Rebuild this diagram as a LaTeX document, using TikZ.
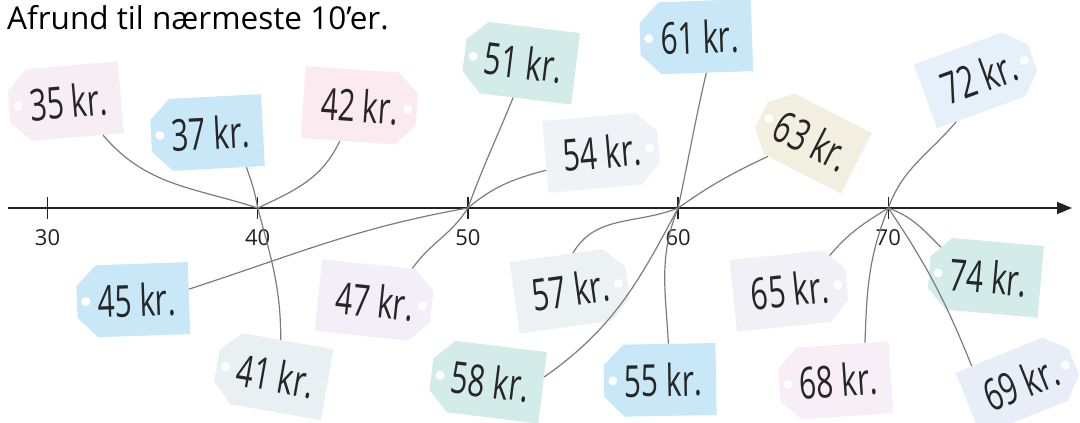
\documentclass[tikz,border=0pt]{standalone}
\usepackage{fontspec}
\setmainfont{Open Sans}
\newfontfamily\tagfont[FakeStretch=0.68]{Open Sans}
\usetikzlibrary{arrows.meta,calc,shapes.misc}
\definecolor{tagpink}{HTML}{F7EEF5}
\definecolor{tagblue}{HTML}{C8E8F8}
\definecolor{tagrose}{HTML}{FBEAEF}
\definecolor{tagteal}{HTML}{D4ECE9}
\definecolor{taglilac}{HTML}{F1F1F8}
\definecolor{tagsand}{HTML}{F2EEE0}
\definecolor{tagsky}{HTML}{E6F0FA}
\definecolor{tagmist}{HTML}{E8F0F4}
\definecolor{tagmauve}{HTML}{F3EEF8}
\definecolor{tagfrost}{HTML}{ECF1F4}
\definecolor{taggrey}{HTML}{F0F0F6}
\definecolor{tagorchid}{HTML}{F8EEF8}
\definecolor{tagice}{HTML}{E7EEF8}
\definecolor{axisdark}{HTML}{222222}
\definecolor{stringgrey}{HTML}{7C7C7C}
\tikzset{
  pricetag/.style={
    chamfered rectangle,
    chamfered rectangle corners={north west,south west},
    chamfered rectangle xsep=11pt,
    chamfered rectangle ysep=9pt,
    minimum width=112pt,
    minimum height=72pt,
    inner sep=0pt,
    draw=none,
    fill=#1,
    text=black!85,
    execute at begin node={\hspace*{7pt}},
    font=\tagfont\fontsize{44}{46}\selectfont
  },
  holeright/.style={
    chamfered rectangle corners={north east,south east},
    execute at begin node={},
    execute at end node={\hspace*{7pt}}
  },
  smalltag/.style={minimum width=100pt, minimum height=68pt},
  taghole/.style={fill=white},
  tagstring/.style={draw=stringgrey, line width=1.2pt},
  axisline/.style={draw=axisdark, line width=1.8pt, -{Triangle[length=15pt,width=12pt]}},
  tickmark/.style={draw=axisdark, line width=1.5pt},
  ticklabel/.style={font=\fontsize{22}{24}\selectfont, text=axisdark}
}

\begin{document}
\begin{tikzpicture}[x=1pt,y=1pt]
\useasboundingbox (0,0) rectangle (1080,-423);
\node[anchor=base west, font=\fontsize{31.5}{34}\selectfont, inner sep=0pt] (title) at (7,-29) {Afrund til nærmeste 10’er.};
% number line
\coordinate (axstart) at (8,-208);
\coordinate (axend) at (1072,-208);
\draw[axisline] (axstart) -- (axend);
\foreach \v [count=\i from 0] in {30,40,50,60,70} {
  \coordinate (tk\v) at ({47.5+210.2*\i},-208);
  \draw[tickmark] ([yshift=11pt]tk\v) -- ([yshift=-11pt]tk\v);
  \node[ticklabel] (lb\v) at ([yshift=-30pt]tk\v) {\v};
}
% tags above the line
\node[pricetag=tagpink, rotate=5] (t35) at (65,-102) {35 kr.};
\node[pricetag=tagblue, rotate=3] (t37) at (207,-133) {37 kr.};
\node[pricetag=tagrose, holeright, rotate=-4] (t42) at (360,-106) {42 kr.};
\node[pricetag=tagteal, rotate=-7] (t51) at (520,-62) {51 kr.};
\node[pricetag=taglilac, holeright, rotate=5] (t54) at (602,-152) {54 kr.};
\node[pricetag=tagblue, rotate=2] (t61) at (696,-37) {61 kr.};
\node[pricetag=tagsand, smalltag, rotate=-27] (t63) at (809,-139) {63 kr.};
\node[pricetag=tagsky, smalltag, holeright, rotate=20] (t72) at (979,-77) {72 kr.};
% tags below the line
\node[pricetag=tagblue, rotate=2] (t45) at (133,-300) {45 kr.};
\node[pricetag=tagmist, rotate=-10] (t41) at (272,-375) {41 kr.};
\node[pricetag=tagmauve, holeright, rotate=-6] (t47) at (375,-301) {47 kr.};
\node[pricetag=tagfrost, holeright, rotate=8] (t57) at (571,-290) {57 kr.};
\node[pricetag=tagteal, rotate=-7] (t58) at (487,-381) {58 kr.};
\node[pricetag=tagblue, rotate=1] (t55) at (660,-380) {55 kr.};
\node[pricetag=taggrey, holeright, rotate=6] (t65) at (790,-290) {65 kr.};
\node[pricetag=tagteal, rotate=-5] (t74) at (985,-277) {74 kr.};
\node[pricetag=tagorchid, rotate=4] (t68) at (835,-381) {68 kr.};
\node[pricetag=tagice, smalltag, holeright, rotate=22] (t69) at (1021,-383) {69 kr.};
% holes
\foreach \t in {t35,t37,t51,t61,t63,t45,t41,t58,t55,t74,t68}
  \fill[taghole] ($(\t.west)!0.08!(\t.east)$) circle (4.5pt);
\foreach \t in {t42,t54,t72,t47,t57,t65,t69}
  \fill[taghole] ($(\t.east)!0.08!(\t.west)$) circle (4.5pt);
% strings
\draw[tagstring] (t35.-46) to[out=-50,in=162] (tk40);
\draw[tagstring] (t37.-44) to[out=-70,in=100] (tk40);
\draw[tagstring] (t42.-116) to[out=-115,in=25] (tk40);
\draw[tagstring] (t41.86) to[out=90,in=-75] (tk40);
\draw[tagstring] (t51.-94) to[out=-112,in=70] (tk50);
\draw[tagstring] (t54.-167) to[out=-165,in=40] (tk50);
\draw[tagstring] (t45.9) to[out=18,in=-170] (tk50);
\draw[tagstring] (t47.47) to[out=55,in=-122] (tk50);
\draw[tagstring] (t61.-76) to[out=-103,in=78] (tk60);
\draw[tagstring] (t63.-130) to[out=-155,in=35] (tk60);
\draw[tagstring] (t57.79) to[out=60,in=-158] (tk60);
\draw[tagstring] (t58.11) to[out=35,in=-118] (tk60);
\draw[tagstring] (t55.76) to[out=93,in=-112] (tk60);
\draw[tagstring] (t72.-137) to[out=-130,in=70] (tk70);
\draw[tagstring] (t65.35) to[out=50,in=-148] (tk70);
\draw[tagstring] (t74.151) to[out=135,in=-20] (tk70);
\draw[tagstring] (t68.48) to[out=88,in=-112] (tk70);
\draw[tagstring] (t69.139) to[out=112,in=-56] (tk70);
\end{tikzpicture}
\end{document}
